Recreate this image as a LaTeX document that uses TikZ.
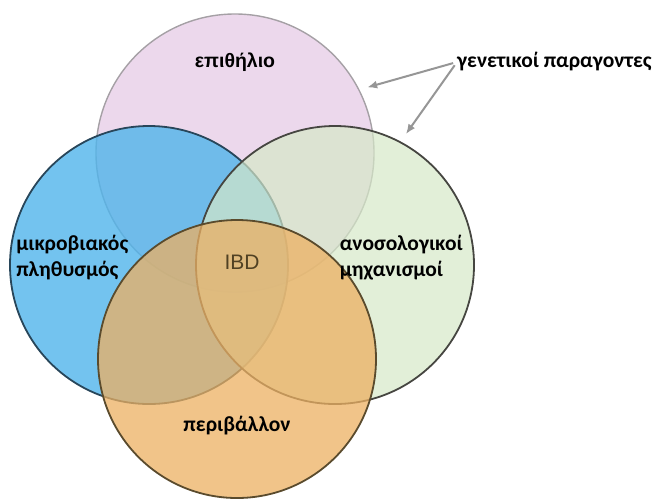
\documentclass[tikz,border=0pt]{standalone}
\usepackage{fontspec}
\setmainfont{Carlito}
\newfontfamily\arialfont{Liberation Sans}
\usetikzlibrary{arrows.meta,positioning}
\definecolor{pinkfill}{RGB}{228,200,228}
\definecolor{pinkline}{RGB}{165,160,165}
\definecolor{bluefill}{RGB}{80,180,235}
\definecolor{blueline}{RGB}{40,70,90}
\definecolor{greenfill}{RGB}{214,232,200}
\definecolor{greenline}{RGB}{70,70,65}
\definecolor{orangefill}{RGB}{236,176,98}
\definecolor{orangeline}{RGB}{90,75,45}
\definecolor{arrowgray}{RGB}{150,150,150}
\definecolor{ibdtext}{RGB}{80,65,35}
\tikzset{
    every picture/.style={
        x=1pt,y=-1pt,>={Latex[length=10pt,width=8pt]},
        set/.style={circle,minimum size=278pt,inner sep=0pt,line width=1.8pt},
        setname/.style={font=\bfseries\fontsize{21.5}{26}\selectfont,align=left,inner sep=0pt}
    }
}

\begin{document}
\begin{tikzpicture}
    \useasboundingbox (0,0) rectangle (652,499);
    % the four sets
    \node[set,draw=pinkline,line width=1.4pt,fill=pinkfill,fill opacity=.7]     (pink)   at (235,153) {};
    \node[set,draw=blueline,fill=bluefill,fill opacity=.8]     (blue)   at (149,265) {};
    \node[set,draw=greenline,fill=greenfill,fill opacity=.7]   (green)  at (335,265) {};
    \node[set,draw=orangeline,fill=orangefill,fill opacity=.75] (orange) at (237,359) {};
    % names
    \node[font=\arialfont\bfseries\fontsize{19.5}{22}\selectfont] (epi) [below=36pt of pink.north] {επιθήλιο};
    \node[setname,anchor=west] (micro) at ([xshift=7pt,yshift=7pt]blue.west) {μικροβιακός\\πληθυσμός};
    \node[setname,anchor=east] (immune) at ([xshift=-12pt,yshift=7pt]green.east) {ανοσολογικοί\\μηχανισμοί};
    \node[setname] (env) [above=64pt of orange.south] {περιβάλλον};
    \node[font=\arialfont\fontsize{21}{24}\selectfont,text=ibdtext] (ibd) at (242,262) {IBD};
    \node[setname,anchor=west] (gen) at (457,62) {γενετικοί παραγοντες};
    \draw[->,arrowgray,line width=2pt,shorten <=4pt,shorten >=8pt] (gen.west) -- (pink.27);
    \draw[->,arrowgray,line width=2pt,shorten <=4pt,shorten >=9pt] (gen.west) -- (green.62);
\end{tikzpicture}
\end{document}
